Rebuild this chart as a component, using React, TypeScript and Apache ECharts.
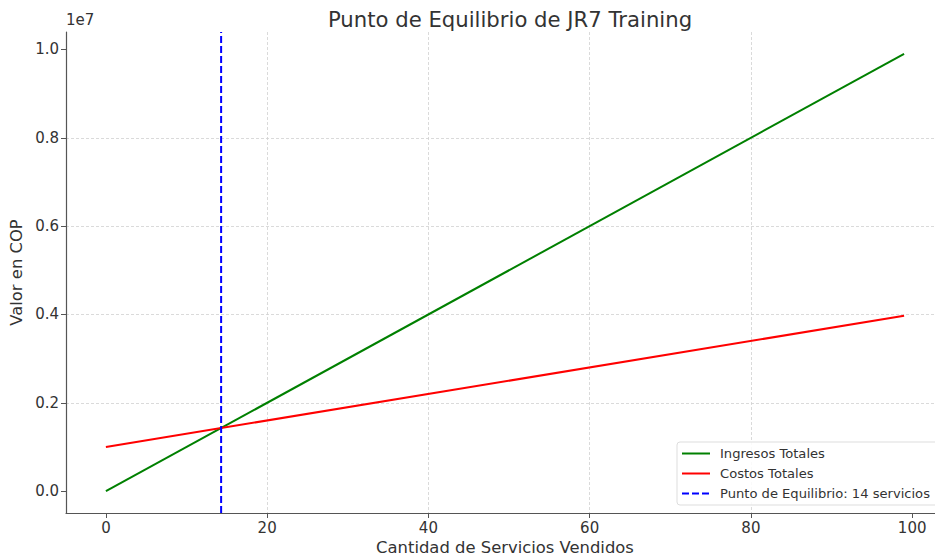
import React, { useEffect, useRef } from "react";
import * as echarts from "echarts";

const serviceCounts = [0, 99];
const ingresosTotales = [0, 9900000];
const costosTotales = [1000000, 3970000];
const breakEvenServices = 14.29;
const xRange = [-4.95, 103.95];
const yRange = [-495000, 10395000];
const xTicks = [0, 20, 40, 60, 80, 100];
const yTicks = [0, 2000000, 4000000, 6000000, 8000000, 10000000];
const seriesNames = ["Ingresos Totales", "Costos Totales", "Punto de Equilibrio: 14 servicios"];

const FONT = "DejaVu Sans";
const TXT = "#333333";

export default function App() {
  const ref = useRef<HTMLDivElement>(null);
  useEffect(() => {
    if (!ref.current) return;
    const chart = echarts.init(ref.current, null, { renderer: "svg" });
    const axisCommon = {
      type: "value",
      nameLocation: "middle",
      nameTextStyle: { fontFamily: FONT, fontSize: 16.4, lineHeight: 16, color: TXT },
      axisLine: { show: true, onZero: false, lineStyle: { color: "#555555", width: 1.2 } },
      splitLine: {
        show: true,
        showMinLine: false,
        showMaxLine: false,
        lineStyle: { color: "#d0d0d0", type: [3, 2], width: 0.8 },
      },
    };
    chart.setOption({
      animation: false,
      backgroundColor: "#ffffff",
      textStyle: { fontFamily: FONT },
      title: {
        text: "Punto de Equilibrio de JR7 Training",
        left: 505,
        top: 4,
        textAlign: "center",
        textStyle: { fontFamily: FONT, fontSize: 21.2, fontWeight: "normal", color: TXT },
      },
      graphic: [
        {
          type: "text",
          left: 66,
          top: 12,
          style: { text: "1e7", fontFamily: FONT, fontSize: 15, fill: TXT },
        },
      ],
      legend: {
        orient: "vertical",
        left: 677,
        top: 442,
        data: seriesNames.map((n) => ({ name: n, itemStyle: { opacity: 0 } })),
        itemWidth: 28,
        itemHeight: 13,
        itemGap: 7,
        padding: [5, 20, 5, 4],
        backgroundColor: "rgba(255,255,255,0.85)",
        borderColor: "#dddddd",
        borderWidth: 1,
        borderRadius: 3,
        textStyle: { fontFamily: FONT, fontSize: 13.1, color: TXT, padding: [0, 0, 0, 5] },
      },
      grid: { left: 66, top: 32, width: 878, height: 481, outerBoundsMode: "none", containLabel: false },
      xAxis: {
        ...axisCommon,
        min: xRange[0],
        max: xRange[1],
        splitNumber: 5,
        name: "Cantidad de Servicios Vendidos",
        nameGap: 20,
        axisTick: { show: true, length: 5, customValues: xTicks, lineStyle: { color: "#555555" } },
        axisLabel: {
          fontFamily: FONT,
          fontSize: 15,
          color: TXT,
          margin: 7,
          customValues: xTicks,
          formatter: (v: number) => String(Math.round(v)),
        },
      },
      yAxis: {
        ...axisCommon,
        min: yRange[0],
        max: yRange[1],
        splitNumber: 5,
        name: "Valor en COP",
        nameGap: 32,
        axisTick: { show: true, length: 5, customValues: yTicks, lineStyle: { color: "#555555" } },
        axisLabel: {
          fontFamily: FONT,
          fontSize: 15,
          color: TXT,
          margin: 7,
          customValues: yTicks,
          formatter: (v: number) => (v / 1e7).toFixed(1),
        },
      },
      series: [
        {
          name: seriesNames[0],
          type: "line",
          symbol: "none",
          data: serviceCounts.map((x, i) => [x, ingresosTotales[i]]),
          lineStyle: { color: "#008000", width: 2 },
          itemStyle: { color: "#008000" },
          z: 3,
        },
        {
          name: seriesNames[1],
          type: "line",
          symbol: "none",
          data: serviceCounts.map((x, i) => [x, costosTotales[i]]),
          lineStyle: { color: "#ff0000", width: 2 },
          itemStyle: { color: "#ff0000" },
          z: 3,
        },
        {
          name: seriesNames[2],
          type: "line",
          symbol: "none",
          data: [
            [breakEvenServices, yRange[0]],
            [breakEvenServices, yRange[1]],
          ],
          lineStyle: { color: "#0000ff", width: 2, type: [7, 3] },
          itemStyle: { color: "#0000ff" },
          z: 4,
        },
      ],
    });
    return () => chart.dispose();
  }, []);
  return (
    <div
      style={{
        position: "fixed",
        left: 0,
        top: 0,
        width: 935,
        height: 556,
        overflow: "hidden",
        background: "#ffffff",
      }}
    >
      <div ref={ref} style={{ width: 960, height: 556 }} />
    </div>
  );
}
